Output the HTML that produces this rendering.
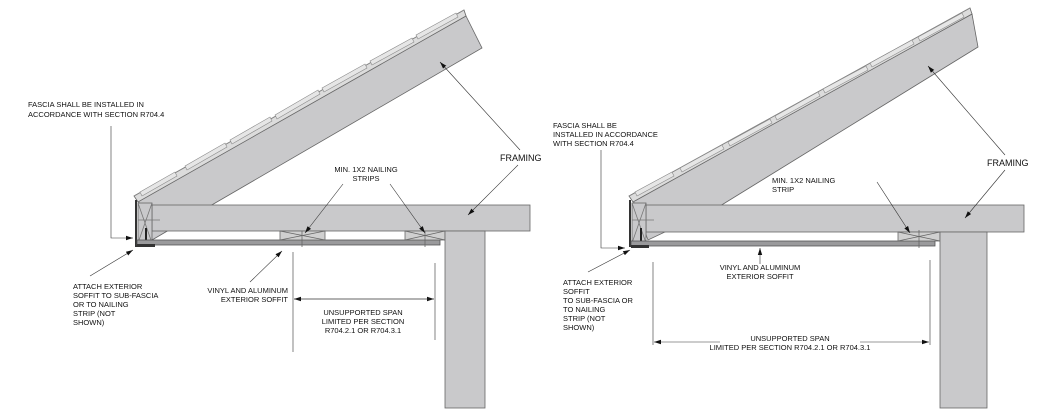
<!DOCTYPE html>
<html><head><meta charset="utf-8"><style>
html,body{margin:0;padding:0;background:#fff;}
svg{display:block;}
text{font-family:"Liberation Sans",Arial,sans-serif;font-size:7.5px;fill:#111;}
.f{font-size:9px;}
</style></head><body>
<svg width="1050" height="420" viewBox="0 0 1050 420" xmlns="http://www.w3.org/2000/svg">
<defs>
<marker id="a" markerWidth="8" markerHeight="6" refX="7" refY="3" orient="auto" markerUnits="userSpaceOnUse"><path d="M0,0.8 L7,3 L0,5.2z" fill="#111"/></marker>
</defs>
<g stroke="#666" stroke-width="0.8">
<polygon points="138,200 466,16 482,48 210,206 152,240" fill="#c9c9cb"/>
<polygon points="134,196 464,10 466,16 138,202" fill="#dcdcdc"/>
<line x1="134" y1="196" x2="464" y2="10" stroke="#888"/>
<g stroke="#888" stroke-width="0.6" fill="#e6e6e6">
<polygon points="140,192 175,172 177,176 142,196"/><polygon points="185,166 225,143 227,147 187,170"/>
<polygon points="230,140 270,117 272,121 232,144"/><polygon points="275,115 318,90 320,94 277,119"/>
<polygon points="322,88 365,64 367,68 324,92"/><polygon points="370,61 412,38 414,42 372,65"/>
<polygon points="416,35 456,13 458,17 418,39"/>
</g>
<rect x="152" y="205" width="378" height="26" fill="#c9c9cb"/>
<rect x="138" y="203" width="14" height="40" fill="#c9c9cb"/>
<path d="M138,203 L152,243 M152,203 L138,243 M138,220 L160,220" stroke="#777"/>
<path d="M136,200 L136,247" stroke="#333" stroke-width="2"/>
<path d="M146,228 L146,245" stroke="#222" stroke-width="2"/>
<rect x="137" y="240" width="303" height="5" fill="#9a9a9c" stroke="#555"/>
<rect x="137" y="244" width="18" height="3" fill="#333" stroke="none"/>
<rect x="280" y="231" width="45" height="9" fill="#d0d0d0"/>
<path d="M280,231 L325,240 M325,231 L280,240 M302,231 L302,247"/>
<rect x="405" y="231" width="40" height="9" fill="#d0d0d0"/>
<path d="M405,231 L445,240 M445,231 L405,240 M425,231 L425,247"/>
<rect x="445" y="231" width="40" height="177" fill="#c9c9cb"/>
<polygon points="633,200 972,14 978,47 720,206 648,240" fill="#c9c9cb"/>
<polygon points="629,196 970,8 972,14 633,202" fill="#dcdcdc"/>
<line x1="629" y1="196" x2="970" y2="8" stroke="#888"/>
<g stroke="#888" stroke-width="0.6" fill="#e6e6e6">
<polygon points="635,192 672,172 674,176 637,196"/><polygon points="680,168 722,145 724,149 682,172"/>
<polygon points="728,142 770,119 772,123 730,146"/><polygon points="775,116 818,92 820,96 777,120"/>
<polygon points="823,89 866,66 868,70 825,93"/><polygon points="870,63 912,40 914,44 872,67"/>
<polygon points="918,37 962,13 964,17 920,41"/>
</g>
<rect x="646" y="205" width="378" height="27" fill="#c9c9cb"/>
<rect x="632" y="203" width="14" height="40" fill="#c9c9cb"/>
<path d="M632,203 L646,243 M646,203 L632,243 M632,220 L654,220" stroke="#777"/>
<path d="M630,200 L630,247" stroke="#333" stroke-width="2"/>
<path d="M641,228 L641,245" stroke="#222" stroke-width="2"/>
<rect x="631" y="241" width="304" height="5" fill="#9a9a9c" stroke="#555"/>
<rect x="631" y="245" width="18" height="3" fill="#333" stroke="none"/>
<rect x="898" y="232" width="42" height="9" fill="#d0d0d0"/>
<path d="M898,232 L940,241 M940,232 L898,241 M919,230 L919,248"/>
<rect x="940" y="232" width="47" height="176" fill="#c9c9cb"/>
</g>
<g stroke="#333" stroke-width="0.6" fill="none">
<path d="M111,126 L111,238 L133,238" marker-end="url(#a)"/>
<path d="M90,276 L133,250" marker-end="url(#a)"/>
<path d="M250,282 L282,251" marker-end="url(#a)"/>
<path d="M293,252 L293,352 M435,263 L435,340"/>
<path d="M294,299 L434,299" marker-end="url(#a)"/><path d="M434,299 L294,299" marker-end="url(#a)"/>
<path d="M343,184 L305,233" marker-end="url(#a)"/>
<path d="M390,184 L425,233" marker-end="url(#a)"/>
<path d="M520,150 L440,62" marker-end="url(#a)"/>
<path d="M518,165 L468,215" marker-end="url(#a)"/>
<path d="M601,150 L601,248 L625,248" marker-end="url(#a)"/>
<path d="M588,272 L630,250" marker-end="url(#a)"/>
<path d="M760,264 L760,248" marker-end="url(#a)"/>
<path d="M653,262 L653,345 M930,260 L930,345"/>
<path d="M720,342 L654,342" marker-end="url(#a)"/><path d="M860,342 L929,342" marker-end="url(#a)"/>
<path d="M877,182 L910,233" marker-end="url(#a)"/>
<path d="M1005,155 L928,66" marker-end="url(#a)"/>
<path d="M1005,170 L965,218" marker-end="url(#a)"/>
</g>
<text x="28" y="107">FASCIA SHALL BE INSTALLED IN</text>
<text x="28" y="117">ACCORDANCE WITH SECTION R704.4</text>
<text x="73" y="289">ATTACH EXTERIOR</text>
<text x="73" y="298">SOFFIT TO SUB-FASCIA</text>
<text x="73" y="307">OR TO NAILING</text>
<text x="73" y="316">STRIP (NOT</text>
<text x="73" y="325">SHOWN)</text>
<text x="288" y="293" text-anchor="end">VINYL AND ALUMINUM</text>
<text x="288" y="302" text-anchor="end">EXTERIOR SOFFIT</text>
<text x="363" y="315" text-anchor="middle">UNSUPPORTED SPAN</text>
<text x="363" y="324" text-anchor="middle">LIMITED PER SECTION</text>
<text x="363" y="333" text-anchor="middle">R704.2.1 OR R704.3.1</text>
<text x="366" y="172" text-anchor="middle">MIN. 1X2 NAILING</text>
<text x="366" y="181" text-anchor="middle">STRIPS</text>
<text x="500" y="161" class="f">FRAMING</text>
<text x="553" y="128">FASCIA SHALL BE</text>
<text x="553" y="137">INSTALLED IN ACCORDANCE</text>
<text x="553" y="146">WITH SECTION R704.4</text>
<text x="563" y="285">ATTACH EXTERIOR</text>
<text x="563" y="294">SOFFIT</text>
<text x="563" y="303">TO SUB-FASCIA OR</text>
<text x="563" y="312">TO NAILING</text>
<text x="563" y="321">STRIP (NOT</text>
<text x="563" y="330">SHOWN)</text>
<text x="760" y="270" text-anchor="middle">VINYL AND ALUMINUM</text>
<text x="760" y="279" text-anchor="middle">EXTERIOR SOFFIT</text>
<text x="790" y="341" text-anchor="middle">UNSUPPORTED SPAN</text>
<text x="790" y="350" text-anchor="middle">LIMITED PER SECTION R704.2.1 OR R704.3.1</text>
<text x="772" y="183">MIN. 1X2 NAILING</text>
<text x="772" y="192">STRIP</text>
<text x="987" y="166" class="f">FRAMING</text>
</svg>
</body></html>
